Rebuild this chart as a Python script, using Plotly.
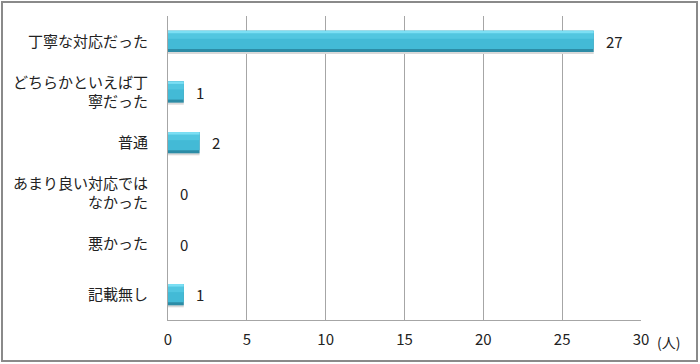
import plotly.graph_objects as go

categories = ["丁寧な対応だった", "どちらかといえば丁<br>寧だった", "普通",
              "あまり良い対応では<br>なかった", "悪かった", "記載無し"]
values = [27, 1, 2, 0, 0, 1]
x_ticks = [0, 5, 10, 15, 20, 25, 30]
unit_label = "(人)"

FONT = "Noto Sans CJK JP"
W, H = 700, 364
L, R, T, B = 168, 59, 16, 44
pw, ph = W - L - R, H - T - B

fig = go.Figure()
# layered bars to imitate the bevelled gradient + soft shadow
layers = [
    (0.44, -0.19, "#D9D9D9"),
    (0.42, -0.21, "#2C8CA6"),
    (0.36, -0.21, "#43BAD6"),
    (0.14, -0.19, "#52C6E0"),
    (0.05, -0.21, "#7CDFF4"),
]
for w, off, col in layers:
    fig.add_trace(go.Bar(y=categories, x=values, orientation="h", width=w, offset=off,
                         marker=dict(color=col, line=dict(width=0)), hoverinfo="skip"))

for c, v in zip(categories, values):
    fig.add_annotation(x=v, y=c, text=str(v), showarrow=False, xanchor="left",
                       xshift=10, font=dict(family=FONT, size=15, color="#222"))

fig.add_annotation(x=1, y=0, xref="paper", yref="paper", text=unit_label, showarrow=False,
                   xanchor="left", yanchor="top", xshift=14, yshift=-10,
                   font=dict(family=FONT, size=14, color="#222"))

# outer frame
fig.add_shape(type="rect", xref="paper", yref="paper",
              x0=(2 - L) / pw, x1=(697 - L) / pw,
              y0=(T + ph - 361) / ph, y1=(T + ph - 2) / ph,
              line=dict(color="#8A8A8A", width=2), fillcolor="rgba(0,0,0,0)")

fig.update_layout(
    width=W, height=H, margin=dict(l=L, r=R, t=T, b=B),
    paper_bgcolor="white", plot_bgcolor="white",
    barmode="overlay", showlegend=False,
    font=dict(family=FONT, size=15, color="#222"),
    xaxis=dict(range=[0, 30], tickvals=x_ticks, showgrid=True, gridcolor="#A6A6A6",
               gridwidth=1, zeroline=False, showline=True, linecolor="#A6A6A6",
               linewidth=1, ticks="", ticklabelstandoff=6, fixedrange=True),
    yaxis=dict(autorange="reversed", showgrid=False, zeroline=False, showline=True,
               linecolor="#A6A6A6", linewidth=1, ticks="", ticklabelstandoff=16,
               fixedrange=True),
)

fig.write_html("out.html")
